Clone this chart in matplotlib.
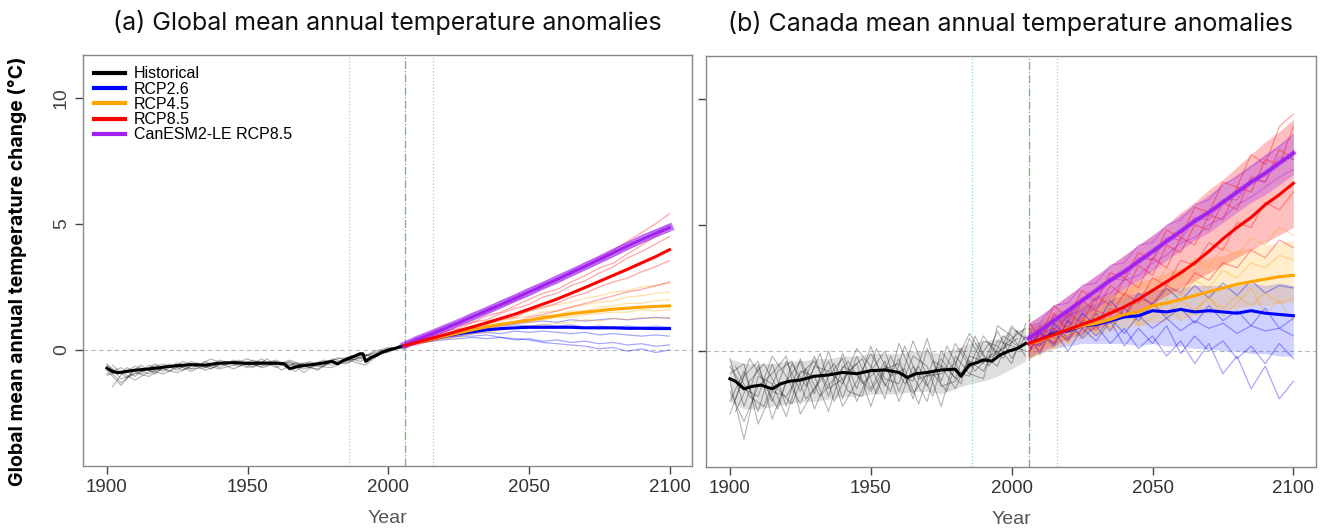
import numpy as np
import matplotlib
matplotlib.use("Agg")
import matplotlib.pyplot as plt

# ---------------- data ----------------
titles = ["(a) Global mean annual temperature anomalies",
          "(b) Canada mean annual temperature anomalies"]
legend_labels = ["Historical", "RCP2.6", "RCP4.5", "RCP8.5", "CanESM2-LE RCP8.5"]
xticks = [1900, 1950, 2000, 2050, 2100]
yticks = [0, 5, 10]
vlines_dotted = [1986, 2016]
vline_dashdot = 2006

hist_years = [1900, 1905, 1910, 1915, 1920, 1925, 1930, 1935, 1940, 1945, 1950,
              1955, 1960, 1965, 1970, 1975, 1980, 1985, 1990, 1995, 2000, 2005]
hist_years_b = [1902, 1907, 1912, 1917, 1922, 1927, 1932, 1937, 1942, 1947, 1952,
                1957, 1962, 1967, 1972, 1977, 1982, 1987, 1992, 1997, 2002]
fut_years = [2006, 2010, 2015, 2020, 2025, 2030, 2035, 2040, 2045, 2050,
             2055, 2060, 2065, 2070, 2075, 2080, 2085, 2090, 2095, 2100]

# global: historical ensemble mean
glob_hist_mean_years = [1900, 1902, 1904, 1907, 1910, 1915, 1920, 1925, 1930, 1935, 1940,
                        1945, 1950, 1955, 1960, 1963, 1965, 1968, 1970, 1975, 1980, 1982,
                        1984, 1986, 1988, 1990, 1991, 1992, 1994, 1996, 1998, 2000, 2002, 2005]
glob_hist_mean = [-0.72, -0.85, -0.9, -0.85, -0.8, -0.75, -0.68, -0.62, -0.58, -0.6, -0.52,
                  -0.5, -0.53, -0.52, -0.52, -0.55, -0.74, -0.65, -0.62, -0.55, -0.45, -0.55,
                  -0.42, -0.33, -0.25, -0.15, -0.15, -0.45, -0.3, -0.2, -0.08, 0.0, 0.05, 0.15]
glob_hist_members = [
    [-0.55, -1.15, -0.95, -0.70, -0.55, -0.80, -0.45, -0.70, -0.40, -0.55, -0.35, -0.60, -0.45, -0.75, -0.50, -0.55, -0.40, -0.30, -0.45, -0.20, -0.05, 0.20],
    [-0.95, -0.70, -1.05, -0.60, -0.85, -0.50, -0.75, -0.45, -0.70, -0.40, -0.65, -0.35, -0.70, -0.45, -0.90, -0.50, -0.60, -0.35, -0.10, -0.30, 0.05, 0.10],
    [-0.80, -1.40, -0.75, -0.95, -0.65, -0.60, -0.85, -0.55, -0.50, -0.75, -0.50, -0.45, -0.60, -0.40, -0.65, -0.75, -0.45, -0.55, -0.25, -0.15, -0.10, 0.25],
    [-0.60, -0.95, -0.65, -0.80, -0.95, -0.70, -0.55, -0.80, -0.60, -0.50, -0.70, -0.55, -0.40, -0.60, -0.55, -0.65, -0.70, -0.40, -0.35, -0.05, 0.10, 0.05],
    [-1.00, -0.85, -1.20, -0.85, -0.75, -0.90, -0.65, -0.60, -0.75, -0.60, -0.45, -0.70, -0.55, -0.55, -0.75, -0.60, -0.50, -0.45, -0.20, -0.25, -0.05, 0.15],
    [-0.70, -1.30, -0.90, -1.05, -0.70, -0.65, -0.75, -0.70, -0.55, -0.45, -0.55, -0.65, -0.50, -0.50, -0.60, -0.80, -0.35, -0.50, -0.30, -0.10, 0.00, 0.20],
]
glob_hist_members_b = [
    [-1.45, -0.70, -0.95, -0.55, -0.85, -0.45, -0.65, -0.35, -0.60, -0.40, -0.70, -0.35, -0.80, -0.50, -0.60, -0.40, -0.55, -0.20, -0.40, -0.05, 0.10],
    [-0.60, -1.10, -0.60, -0.95, -0.55, -0.80, -0.50, -0.75, -0.45, -0.65, -0.40, -0.60, -0.50, -0.85, -0.45, -0.65, -0.30, -0.45, -0.60, -0.15, 0.00],
]

# global: scenario means
glob_rcp26 = [0.18, 0.30, 0.42, 0.55, 0.65, 0.72, 0.80, 0.85, 0.88, 0.90, 0.90, 0.90, 0.90, 0.88, 0.88, 0.88, 0.86, 0.86, 0.85, 0.85]
glob_rcp45 = [0.18, 0.30, 0.42, 0.55, 0.68, 0.80, 0.92, 1.02, 1.10, 1.18, 1.28, 1.36, 1.44, 1.50, 1.56, 1.62, 1.66, 1.70, 1.73, 1.75]
glob_rcp85 = [0.18, 0.30, 0.45, 0.60, 0.76, 0.92, 1.08, 1.25, 1.42, 1.62, 1.82, 2.02, 2.25, 2.48, 2.72, 2.96, 3.20, 3.45, 3.70, 3.98]
glob_le85 = [0.20, 0.40, 0.62, 0.85, 1.08, 1.32, 1.56, 1.80, 2.05, 2.30, 2.55, 2.80, 3.06, 3.32, 3.58, 3.85, 4.12, 4.38, 4.62, 4.85]

# global: scenario members
glob_rcp26_members = [
    [0.20, 0.35, 0.50, 0.60, 0.75, 0.85, 0.95, 1.00, 1.05, 1.10, 1.15, 1.10, 1.20, 1.15, 1.20, 1.25, 1.20, 1.25, 1.30, 1.25],
    [0.15, 0.25, 0.35, 0.40, 0.45, 0.50, 0.45, 0.50, 0.40, 0.45, 0.35, 0.40, 0.30, 0.35, 0.25, 0.30, 0.20, 0.25, 0.15, 0.20],
    [0.10, 0.30, 0.35, 0.50, 0.55, 0.65, 0.70, 0.65, 0.75, 0.70, 0.75, 0.70, 0.65, 0.70, 0.60, 0.65, 0.60, 0.55, 0.60, 0.55],
    [0.25, 0.30, 0.45, 0.45, 0.55, 0.55, 0.60, 0.50, 0.45, 0.40, 0.30, 0.25, 0.20, 0.15, 0.05, 0.10, -0.05, 0.05, -0.10, 0.00],
    [0.20, 0.35, 0.45, 0.60, 0.70, 0.80, 0.90, 0.95, 1.00, 0.95, 1.00, 0.95, 1.00, 0.90, 0.95, 0.90, 0.95, 0.90, 0.95, 0.90],
]
glob_rcp45_members = [
    [0.20, 0.35, 0.45, 0.65, 0.80, 0.95, 1.15, 1.25, 1.40, 1.55, 1.65, 1.80, 1.90, 2.05, 2.15, 2.30, 2.35, 2.50, 2.55, 2.65],
    [0.15, 0.25, 0.35, 0.45, 0.50, 0.65, 0.70, 0.80, 0.85, 0.95, 1.00, 1.05, 1.10, 1.20, 1.15, 1.25, 1.20, 1.30, 1.25, 1.30],
    [0.25, 0.30, 0.50, 0.55, 0.75, 0.80, 0.95, 1.05, 1.15, 1.20, 1.35, 1.40, 1.55, 1.55, 1.70, 1.75, 1.85, 1.85, 1.95, 2.00],
    [0.10, 0.30, 0.35, 0.55, 0.60, 0.75, 0.85, 0.90, 1.05, 1.10, 1.20, 1.30, 1.30, 1.40, 1.45, 1.50, 1.50, 1.60, 1.55, 1.60],
    [0.20, 0.35, 0.45, 0.55, 0.70, 0.90, 1.00, 1.15, 1.25, 1.35, 1.50, 1.55, 1.70, 1.80, 1.90, 1.95, 2.10, 2.15, 2.25, 2.30],
]
glob_rcp85_members = [
    [0.15, 0.40, 0.50, 0.75, 0.85, 1.10, 1.20, 1.45, 1.65, 1.80, 2.10, 2.25, 2.55, 2.75, 3.05, 3.30, 3.65, 3.90, 4.20, 4.50],
    [0.25, 0.25, 0.45, 0.55, 0.80, 0.85, 1.05, 1.20, 1.30, 1.55, 1.70, 1.85, 2.10, 2.25, 2.50, 2.70, 2.85, 3.10, 3.30, 3.55],
    [0.10, 0.35, 0.55, 0.70, 0.95, 1.10, 1.35, 1.50, 1.75, 2.00, 2.25, 2.40, 2.70, 2.95, 3.25, 3.45, 3.80, 4.15, 4.50, 4.90],
    [0.20, 0.20, 0.35, 0.50, 0.60, 0.75, 0.85, 1.00, 1.10, 1.30, 1.40, 1.55, 1.70, 1.85, 2.00, 2.15, 2.30, 2.40, 2.55, 2.70],
    [0.30, 0.45, 0.65, 0.85, 1.05, 1.30, 1.50, 1.75, 1.95, 2.25, 2.50, 2.75, 3.05, 3.35, 3.65, 3.95, 4.30, 4.65, 5.00, 5.40],
]
glob_le85_members = [
    [0.25, 0.50, 0.70, 0.95, 1.15, 1.45, 1.65, 1.95, 2.15, 2.45, 2.65, 2.95, 3.15, 3.45, 3.70, 4.00, 4.25, 4.55, 4.75, 5.00],
    [0.15, 0.35, 0.55, 0.80, 1.00, 1.20, 1.45, 1.70, 1.95, 2.15, 2.45, 2.65, 2.95, 3.20, 3.45, 3.70, 4.00, 4.25, 4.50, 4.70],
    [0.20, 0.45, 0.65, 0.90, 1.10, 1.35, 1.60, 1.85, 2.10, 2.35, 2.60, 2.85, 3.10, 3.35, 3.62, 3.90, 4.15, 4.42, 4.68, 4.95],
]

# canada: historical
can_hist_mean_years = [1900, 1902, 1905, 1908, 1911, 1915, 1918, 1921, 1925, 1930, 1935, 1940, 1945,
                       1950, 1955, 1960, 1963, 1966, 1970, 1975, 1980, 1982, 1985, 1988, 1990,
                       1993, 1996, 1999, 2002, 2005]
can_hist_mean = [-1.1, -1.2, -1.5, -1.4, -1.35, -1.5, -1.3, -1.2, -1.15, -1.0, -0.95, -0.85, -0.9,
                 -0.78, -0.75, -0.85, -1.05, -0.9, -0.85, -0.75, -0.72, -1.0, -0.55, -0.45, -0.35,
                 -0.4, -0.15, 0.0, 0.1, 0.3]
can_hist_members = [
    [-0.3, -2.2, -0.6, -2.0, -0.4, -1.6, -0.2, -1.8, -0.1, -1.5, 0.2, -1.4, -0.3, -1.9, 0.1, -1.2, 0.3, -0.6, 0.6, -0.2, 1.0, 0.4],
    [-2.0, -0.8, -2.4, -0.5, -2.2, -0.3, -1.7, 0.0, -1.9, -0.2, -1.5, -0.4, -2.0, -0.6, -1.4, -0.3, -1.1, 0.5, -0.5, 0.8, -0.3, 0.6],
    [-1.2, -3.5, -1.0, -1.3, -2.6, -0.8, -1.0, -2.4, -0.6, -0.9, -1.6, -0.7, -0.5, -1.7, -0.9, -0.6, -1.5, -0.2, -0.4, -0.1, 0.5, 0.9],
    [-0.6, -1.5, -1.8, -0.2, -1.0, -2.1, -0.6, -0.8, -1.3, 0.1, -0.6, -1.9, 0.3, -1.0, -2.0, 0.0, -0.8, -1.0, 0.4, 0.2, -0.5, 1.1],
    [-2.5, -1.0, -0.4, -2.7, -1.2, -0.4, -2.3, -1.0, -0.3, -2.0, -0.8, 0.0, -1.6, -0.2, -0.6, -2.2, -0.2, -0.9, -1.1, 1.0, 0.6, -0.2],
    [-1.6, -2.8, -1.4, -0.9, -0.2, -2.5, -1.5, -0.4, -2.2, -1.2, -0.1, -1.1, -1.3, 0.4, -1.0, -0.9, -0.5, 0.7, -0.2, -0.6, 0.9, 0.5],
    [-0.9, -0.5, -2.9, -1.6, -1.8, -0.9, -0.4, -1.5, -1.1, -0.5, -2.2, -0.6, -0.9, -1.2, 0.5, -1.4, -1.2, -0.4, -0.8, 0.4, 0.2, 0.0],
]
can_hist_members_b = [
    [-1.9, -0.3, -1.2, -2.3, -0.5, -1.4, -0.1, -2.0, -0.8, -0.3, -1.7, -0.2, -1.3, -0.6, -1.8, 0.2, -0.9, -0.5, 0.3, -0.3, 0.8],
    [-0.6, -1.8, -2.2, -0.8, -0.4, -1.9, -1.2, -0.5, -1.6, -1.8, 0.1, -1.0, -0.7, -2.1, -0.4, -0.7, -1.3, 0.6, -0.6, 0.6, 0.2],
    [-2.4, -1.2, -0.5, -1.5, -2.1, -0.7, -1.8, -1.1, -0.4, -1.3, -0.8, -1.6, 0.2, -1.1, -0.9, -1.6, 0.1, -0.8, -0.2, 0.1, 0.5],
]
can_hist_lo = [-2.0, -2.3, -2.3, -2.2, -2.1, -2.0, -2.0, -1.9, -1.8, -1.8, -1.7, -1.7, -1.7, -1.6, -1.6, -1.7, -1.5, -1.3, -1.2, -1.0, -0.7, -0.4]
can_hist_hi = [-0.3, -0.5, -0.5, -0.5, -0.4, -0.4, -0.3, -0.3, -0.2, -0.2, -0.1, -0.1, -0.1, 0.0, 0.0, -0.1, 0.1, 0.3, 0.4, 0.5, 0.8, 0.9]

# canada: scenario means
can_rcp26 = [0.30, 0.45, 0.70, 0.80, 1.00, 1.05, 1.20, 1.35, 1.40, 1.60, 1.55, 1.65, 1.55, 1.60, 1.55, 1.50, 1.60, 1.50, 1.45, 1.40]
can_rcp45 = [0.30, 0.40, 0.65, 0.85, 1.00, 1.10, 1.25, 1.45, 1.55, 1.80, 1.90, 2.05, 2.20, 2.35, 2.50, 2.65, 2.75, 2.85, 2.95, 3.00]
can_rcp85 = [0.30, 0.45, 0.65, 0.85, 1.05, 1.25, 1.50, 1.75, 2.05, 2.40, 2.75, 3.10, 3.50, 3.95, 4.45, 4.90, 5.30, 5.80, 6.20, 6.65]
can_le85 = [0.50, 0.80, 1.20, 1.60, 2.00, 2.40, 2.80, 3.15, 3.55, 3.95, 4.35, 4.75, 5.15, 5.50, 5.90, 6.30, 6.70, 7.05, 7.45, 7.85]

# canada: scenario members
can_rcp26_members = [
    [0.6, -0.1, 1.1, 0.5, 1.5, 1.0, 2.0, 1.4, 2.3, 1.8, 2.5, 2.0, 2.6, 2.1, 2.7, 2.2, 2.8, 2.3, 2.6, 2.5],
    [-0.1, 0.8, 0.3, 1.2, 0.5, 1.0, 0.3, 0.9, 0.1, 0.6, -0.2, 0.4, -0.5, 0.3, -0.9, -0.2, -1.5, -0.6, -1.9, -1.2],
    [0.4, 0.2, 0.9, 0.4, 1.2, 0.6, 1.3, 0.7, 1.4, 0.9, 1.3, 0.8, 1.2, 0.9, 1.1, 0.7, 1.0, 0.8, 0.9, 0.6],
    [0.2, 0.7, 0.2, 1.0, 0.6, 1.5, 0.8, 1.7, 1.2, 1.9, 1.3, 1.7, 1.1, 1.8, 1.2, 1.6, 1.0, 1.7, 0.9, 1.3],
    [0.7, 0.3, 0.8, 0.0, 0.9, 0.4, 1.2, 0.2, 0.9, 0.3, 1.0, -0.1, 0.6, 0.0, 0.4, -0.3, 0.2, -0.5, 0.3, -0.3],
]
can_rcp45_members = [
    [0.5, -0.2, 0.9, 0.3, 1.3, 0.8, 1.7, 1.3, 2.1, 1.7, 2.4, 2.2, 2.8, 2.5, 3.2, 2.9, 3.5, 3.3, 3.8, 3.6],
    [-0.3, 0.6, 0.1, 1.0, 0.6, 1.3, 0.9, 1.5, 1.1, 1.8, 1.4, 2.0, 1.6, 2.1, 1.7, 2.2, 1.8, 2.3, 1.9, 2.1],
    [0.8, 0.3, 1.2, 0.8, 1.8, 1.3, 2.2, 1.9, 2.8, 2.4, 3.3, 2.9, 3.7, 3.3, 4.1, 3.8, 4.5, 4.2, 4.9, 4.6],
    [0.1, 0.9, 0.4, 0.6, 1.3, 0.7, 1.0, 1.8, 1.0, 1.3, 2.1, 1.2, 1.6, 2.2, 1.4, 1.9, 2.5, 1.5, 2.0, 1.2],
]
can_rcp85_members = [
    [0.9, 0.2, 1.5, 0.8, 2.0, 1.6, 2.6, 2.2, 3.4, 3.0, 4.2, 3.9, 5.0, 4.8, 5.9, 5.6, 6.9, 6.7, 8.0, 7.6],
    [-0.2, 1.0, 0.5, 1.5, 1.1, 2.2, 1.8, 2.9, 2.5, 3.7, 3.3, 4.5, 4.2, 5.4, 5.2, 6.5, 6.3, 7.6, 7.4, 8.9],
    [0.6, 0.0, 0.9, 0.4, 1.3, 0.8, 1.7, 1.4, 2.1, 1.9, 2.6, 2.3, 3.1, 2.8, 3.5, 3.3, 4.0, 3.7, 4.4, 4.1],
    [0.0, 0.7, 0.3, 1.2, 0.9, 1.6, 1.4, 2.3, 1.9, 2.9, 2.6, 3.6, 3.4, 4.3, 4.0, 5.1, 4.9, 5.9, 5.6, 6.3],
    [1.2, 0.5, 1.8, 1.3, 2.4, 2.0, 3.1, 2.9, 3.9, 3.6, 4.8, 4.5, 5.7, 5.5, 6.7, 6.5, 7.8, 7.4, 8.9, 9.4],
]
can_le85_members = [
    [1.0, 1.1, 1.8, 1.9, 2.6, 2.7, 3.4, 3.5, 4.2, 4.3, 5.0, 5.2, 5.8, 6.0, 6.6, 6.9, 7.3, 7.7, 8.1, 8.6],
    [0.2, 0.7, 0.9, 1.4, 1.6, 2.1, 2.3, 2.8, 3.0, 3.5, 3.8, 4.3, 4.5, 5.0, 5.3, 5.8, 6.1, 6.5, 6.9, 7.2],
    [0.6, 0.4, 1.4, 1.2, 2.1, 2.0, 2.9, 2.8, 3.7, 3.6, 4.5, 4.4, 5.3, 5.2, 6.0, 6.0, 6.8, 6.7, 7.7, 7.6],
]
# canada: envelopes of the ensemble clouds (dense core)
can_rcp26_lo = [-0.3, -0.1, 0.1, 0.2, 0.3, 0.3, 0.3, 0.3, 0.2, 0.3, 0.2, 0.2, 0.1, 0.1, 0.0, 0.0, -0.1, -0.1, -0.2, -0.2]
can_rcp26_hi = [0.9, 1.1, 1.3, 1.6, 1.8, 1.9, 2.1, 2.2, 2.3, 2.4, 2.5, 2.5, 2.6, 2.6, 2.6, 2.6, 2.7, 2.6, 2.7, 2.6]
can_rcp45_lo = [-0.3, -0.1, 0.1, 0.3, 0.5, 0.6, 0.8, 0.9, 1.0, 1.1, 1.2, 1.3, 1.4, 1.5, 1.6, 1.7, 1.8, 1.8, 1.9, 1.9]
can_rcp45_hi = [1.0, 1.2, 1.5, 1.7, 1.9, 2.1, 2.3, 2.5, 2.7, 2.9, 3.1, 3.3, 3.5, 3.7, 3.8, 4.0, 4.1, 4.2, 4.3, 4.4]
can_rcp85_lo = [-0.3, 0.0, 0.2, 0.5, 0.7, 0.9, 1.1, 1.4, 1.6, 1.9, 2.2, 2.5, 2.8, 3.1, 3.4, 3.7, 4.0, 4.3, 4.6, 4.9]
can_rcp85_hi = [1.1, 1.4, 1.8, 2.2, 2.6, 3.0, 3.4, 3.8, 4.2, 4.6, 5.0, 5.5, 5.9, 6.4, 6.8, 7.3, 7.8, 8.3, 8.7, 9.2]
can_le85_lo = [0.0, 0.3, 0.6, 1.0, 1.3, 1.7, 2.1, 2.5, 2.8, 3.2, 3.6, 4.0, 4.4, 4.7, 5.1, 5.5, 5.9, 6.2, 6.6, 7.0]
can_le85_hi = [1.1, 1.4, 1.8, 2.2, 2.6, 3.0, 3.4, 3.8, 4.2, 4.6, 5.0, 5.4, 5.8, 6.2, 6.6, 7.0, 7.4, 7.8, 8.2, 8.6]

# colours (R named colours)
c_hist = "black"
c_26 = "#0000ff"
c_45 = "#ffa500"
c_85 = "#ff0000"
c_le = "#a020f0"

tick_font = ["Liberation Sans Narrow", "Liberation Sans", "DejaVu Sans"]
title_font = ["Inter", "Roboto", "DejaVu Sans"]

fig = plt.figure(figsize=(13.28, 5.31), dpi=100)
ax1 = fig.add_axes([0.0625, 0.1224, 0.4586, 0.774])
ax2 = fig.add_axes([0.5316, 0.1205, 0.4593, 0.774])


def draw_panel(ax, hm_years, hm, hmembers, hmembers_b, means, members, bands, le_width):
    # reference lines
    ax.axhline(0, color="#bbbbbb", lw=0.8, ls=(0, (4, 3)), zorder=0)
    for v in vlines_dotted:
        ax.axvline(v, color="#99d6d0", lw=0.9, ls=":", zorder=0)
    ax.axvline(vline_dashdot, color="#55cc55", lw=0.9, ls="-.", zorder=0)

    # historical
    if bands is not None:
        ax.fill_between(hist_years, bands["hist"][0], bands["hist"][1],
                        color="black", alpha=0.13, lw=0, zorder=1)
    for m in hmembers:
        ax.plot(hist_years, m, color="black", alpha=0.3, lw=0.8, zorder=2)
    for m in hmembers_b:
        ax.plot(hist_years_b, m, color="black", alpha=0.3, lw=0.8, zorder=2)
    ax.plot(hm_years, hm, color=c_hist, lw=2.2, zorder=6)

    # scenario clouds
    cols = [c_26, c_45, c_85, c_le]
    band_alpha = [0.18, 0.2, 0.25, 0.3]
    for i, col in enumerate(cols):
        if bands is not None:
            lo, hi = bands["fut"][i]
            ax.fill_between(fut_years, lo, hi, color=col, alpha=band_alpha[i], lw=0, zorder=2 + i * 0.1)
        for m in members[i]:
            ax.plot(fut_years, m, color=col, alpha=0.35, lw=0.9, zorder=3 + i * 0.1)

    ax.plot(fut_years, means[0], color=c_26, lw=2.2, zorder=7)
    ax.plot(fut_years, means[1], color=c_45, lw=2.2, zorder=7.1)
    ax.plot(fut_years, means[3], color=c_le, lw=le_width, alpha=0.6, zorder=7.2)
    ax.plot(fut_years, means[3], color=c_le, lw=2.0, zorder=7.3)
    ax.plot(fut_years, means[2], color=c_85, lw=2.2, zorder=7.4)

    ax.set_xlim(1891.5, 2108)
    ax.set_ylim(-4.6, 11.7)
    ax.set_xticks(xticks)
    ax.set_yticks(yticks)
    for s in ax.spines.values():
        s.set_color("#888888")
        s.set_linewidth(1.0)
    ax.tick_params(axis="both", colors="#444444", length=6, width=1.0, labelsize=13.5)
    for lab in ax.get_xticklabels():
        lab.set_fontfamily(tick_font)
        lab.set_color("#333333")
    ax.set_xlabel("Year", fontsize=14, color="#555555", family=tick_font, labelpad=10)


draw_panel(ax1, glob_hist_mean_years, glob_hist_mean, glob_hist_members, glob_hist_members_b,
           [glob_rcp26, glob_rcp45, glob_rcp85, glob_le85],
           [glob_rcp26_members, glob_rcp45_members, glob_rcp85_members, glob_le85_members],
           None, 5.5)
draw_panel(ax2, can_hist_mean_years, can_hist_mean, can_hist_members, can_hist_members_b,
           [can_rcp26, can_rcp45, can_rcp85, can_le85],
           [can_rcp26_members, can_rcp45_members, can_rcp85_members, can_le85_members],
           {"hist": (can_hist_lo, can_hist_hi),
            "fut": [(can_rcp26_lo, can_rcp26_hi), (can_rcp45_lo, can_rcp45_hi),
                    (can_rcp85_lo, can_rcp85_hi), (can_le85_lo, can_le85_hi)]},
           3.5)

ax1.set_yticklabels([str(t) for t in yticks], rotation=90, va="center",
                    fontsize=14, color="#444444", family=["Liberation Sans", "DejaVu Sans"])
ax2.set_yticklabels([])

for ax, t in zip([ax1, ax2], titles):
    ax.set_title(t, fontsize=18, family=title_font, color="#111111", pad=18)

fig.text(0.013, 0.49, "Global mean annual temperature change (°C)", rotation=90,
         ha="center", va="center", fontsize=14, fontweight="bold", family=title_font)

# legend
handles = [plt.Line2D([], [], color=c, lw=3) for c in [c_hist, c_26, c_45, c_85, c_le]]
leg = ax1.legend(handles, legend_labels, loc="upper left", frameon=False,
                 handlelength=1.9, handletextpad=0.6, labelspacing=0.02,
                 borderaxespad=0.3, prop={"family": ["Liberation Sans", "DejaVu Sans"], "size": 11.5})

fig.savefig("out.png", dpi=100)
